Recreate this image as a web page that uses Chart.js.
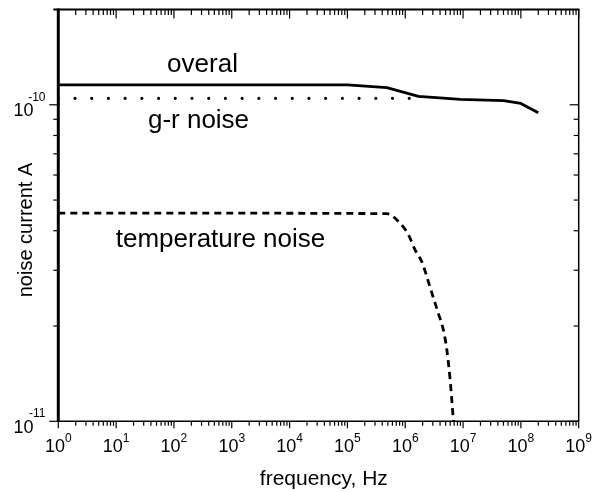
<!DOCTYPE html>
<html>
<head>
<meta charset="utf-8">
<script src="https://cdn.jsdelivr.net/npm/chart.js@4/dist/chart.umd.min.js"></script>
<style>
  html, body { margin: 0; padding: 0; background: #fff; }
  #c { display: block; }
</style>
</head>
<body>
<canvas id="c" width="592" height="492"></canvas>
<script>
// ---- data ----
const overallFreq    = [1, 1e5, 4.8e5, 1.7e6, 9e6, 5e7, 1e8, 2e8];
const overallCurrent = [1.155e-10, 1.155e-10, 1.133e-10, 1.063e-10, 1.04e-10, 1.03e-10, 1.01e-10, 0.943e-10];

const grFreq    = [1, 1.7e6];
const grCurrent = [1.048e-10, 1.048e-10];

const tempFreq    = [1, 4.8e5, 8.2e5, 1.14e6, 1.48e6, 1.94e6, 2.37e6, 2.89e6, 3.75e6, 4.58e6, 5.25e6, 5.98e6, 6.82e6];
const tempCurrent = [4.55e-11, 4.53e-11, 4.22e-11, 3.88e-11, 3.48e-11, 3.19e-11, 2.86e-11, 2.54e-11, 2.19e-11, 1.94e-11, 1.68e-11, 1.35e-11, 1.0e-11];

const xTickExponents = [0, 1, 2, 3, 4, 5, 6, 7, 8, 9];
const yTickExponents = [-11, -10];
const xMin = 1, xMax = 1e9;
const yMin = 1e-11, yMax = 2e-10;

const seriesLabels = ['overal', 'g-r noise', 'temperature noise'];
const xTitle = 'frequency, Hz';
const yTitle = 'noise current A';

function pts(xs, ys) { return xs.map((x, i) => ({ x: x, y: ys[i] })); }

const FONT = '"Liberation Sans", Arial, Helvetica, sans-serif';

const framePlugin = {
  id: 'framePlugin',
  afterDraw(chart) {
    const ctx = chart.ctx;
    const xs = chart.scales.x, ys = chart.scales.y;
    const a = chart.chartArea;
    ctx.save();
    ctx.strokeStyle = '#000';
    ctx.fillStyle = '#000';
    ctx.lineCap = 'butt';

    // frame
    ctx.lineWidth = 1.5;
    ctx.beginPath(); ctx.moveTo(a.left, a.bottom); ctx.lineTo(a.right, a.bottom); ctx.stroke();
    ctx.beginPath(); ctx.moveTo(a.right, a.top); ctx.lineTo(a.right, a.bottom); ctx.stroke();
    ctx.lineWidth = 2;
    ctx.beginPath(); ctx.moveTo(a.left - 5, a.top); ctx.lineTo(a.right + 0.75, a.top); ctx.stroke();
    ctx.lineWidth = 3;
    ctx.beginPath(); ctx.moveTo(a.left, a.top - 1); ctx.lineTo(a.left, a.bottom + 0.75); ctx.stroke();

    // x ticks (bottom outward, top inward)
    ctx.lineWidth = 1.2;
    for (let i = 0; i < xTickExponents.length; i++) {
      const e = xTickExponents[i];
      const ms = (i === xTickExponents.length - 1) ? [1] : [1,2,3,4,5,6,7,8,9];
      for (const m of ms) {
        const v = m * Math.pow(10, e);
        const px = xs.getPixelForValue(v);
        const major = m === 1;
        ctx.beginPath(); ctx.moveTo(px, a.bottom); ctx.lineTo(px, a.bottom + (major ? 7 : 4.5)); ctx.stroke();
        ctx.beginPath(); ctx.moveTo(px, a.top); ctx.lineTo(px, a.top + (major ? 9 : 5.5)); ctx.stroke();
      }
    }
    // y ticks (left outward, right inward)
    const yVals = [];
    for (let m = 1; m <= 9; m++) yVals.push({ v: m * 1e-11, major: m === 1 });
    yVals.push({ v: 1e-10, major: true });
    for (const t of yVals) {
      const py = ys.getPixelForValue(t.v);
      ctx.beginPath(); ctx.moveTo(a.left - (t.major ? 9 : 5), py); ctx.lineTo(a.left, py); ctx.stroke();
      ctx.beginPath(); ctx.moveTo(a.right, py); ctx.lineTo(a.right - (t.major ? 9 : 5), py); ctx.stroke();
    }

    // tick labels
    const big = '18px ' + FONT, small = '12px ' + FONT;
    ctx.textBaseline = 'alphabetic';
    for (const e of xTickExponents) {
      const px = xs.getPixelForValue(Math.pow(10, e));
      ctx.font = big; const w1 = ctx.measureText('10').width;
      ctx.font = small; const w2 = ctx.measureText(String(e)).width;
      const x0 = px - (w1 + w2) / 2;
      ctx.font = big; ctx.textAlign = 'left'; ctx.fillText('10', x0, a.bottom + 30.4);
      ctx.font = small; ctx.fillText(String(e), x0 + w1, a.bottom + 20.4);
    }
    for (const e of yTickExponents) {
      const py = ys.getPixelForValue(Math.pow(10, e));
      const exp = String(e);
      ctx.textAlign = 'right';
      ctx.font = small; ctx.fillText(exp, 45.5, py - 4);
      ctx.font = big; ctx.fillText('10', 33.5, py + 11.5);
    }

    // axis titles
    ctx.font = '21px ' + FONT;
    ctx.textAlign = 'center';
    ctx.fillText(xTitle, 323.8, 485);
    ctx.save();
    ctx.translate(32, 230);
    ctx.rotate(-Math.PI / 2);
    ctx.font = '20px ' + FONT;
    ctx.fillText(yTitle, 0, 0);
    ctx.restore();

    // series annotations
    ctx.font = '26px ' + FONT;
    ctx.textAlign = 'center';
    ctx.fillText(seriesLabels[0], 202.5, 71.7);
    ctx.fillText(seriesLabels[1], 198.5, 128.3);
    ctx.fillText(seriesLabels[2], 220.5, 246.7);
    ctx.restore();
  }
};

new Chart(document.getElementById('c'), {
  type: 'line',
  data: {
    datasets: [
      { label: seriesLabels[0], data: pts(overallFreq, overallCurrent), borderColor: '#000', borderWidth: 2.8, pointRadius: 0, tension: 0, fill: false, borderJoinStyle: 'round' },
      { label: seriesLabels[1], data: pts(grFreq, grCurrent), borderColor: '#000', borderWidth: 3.2, pointRadius: 0, tension: 0, fill: false, borderDash: [0.01, 16.7], borderCapStyle: 'round' },
      { label: seriesLabels[2], data: pts(tempFreq, tempCurrent), borderColor: '#000', borderWidth: 2.8, pointRadius: 0, cubicInterpolationMode: 'monotone', fill: false, borderDash: [7, 5], borderCapStyle: 'butt' }
    ]
  },
  options: {
    responsive: false,
    devicePixelRatio: 1,
    animation: false,
    layout: { padding: { left: 58.3, right: 13.3, top: 9.5, bottom: 70.7 } },
    plugins: { legend: { display: false }, tooltip: { enabled: false }, title: { display: false } },
    scales: {
      x: { type: 'logarithmic', min: xMin, max: xMax, display: false },
      y: { type: 'logarithmic', min: yMin, max: yMax, display: false }
    }
  },
  plugins: [framePlugin]
});
</script>
</body>
</html>
